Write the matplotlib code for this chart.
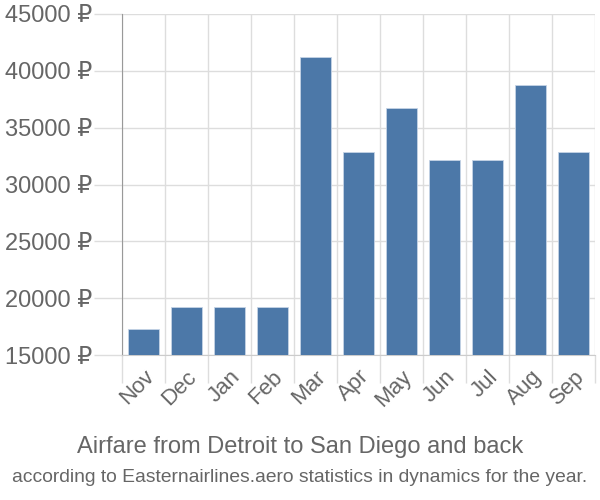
import matplotlib
matplotlib.use('Agg')
from matplotlib import pyplot as plt
import numpy as np

months = ['Nov', 'Dec', 'Jan', 'Feb', 'Mar', 'Apr', 'May', 'Jun', 'Jul', 'Aug', 'Sep']
prices = [17330, 19210, 19210, 19210, 41250, 32850, 36690, 32140, 32140, 38760, 32850]
y_ticks = [15000, 20000, 25000, 30000, 35000, 40000, 45000]

title = 'Airfare from Detroit to San Diego and back'
subtitle = 'according to Easternairlines.aero statistics in dynamics for the year.'

plt.rcParams['font.family'] = ['Liberation Sans', 'DejaVu Sans']

text_color = '#666666'
grid_color = '#dddddd'

fig = plt.figure(figsize=(6, 5), dpi=100)
ax = fig.add_axes([0.203, 0.29, 0.789, 0.682])

x = np.arange(len(months))
ax.bar(x, prices, width=0.72, bottom=0, color='#4c78a8', edgecolor='#c5d3e6', linewidth=0.6, zorder=3)

ax.set_xlim(-0.5, len(months) - 0.5)
ax.set_ylim(15000, 45000)
ax.set_yticks(y_ticks)
ax.set_yticklabels([f'{v} ₽' for v in y_ticks])

# category boundaries as vertical grid lines
ax.set_xticks(x)
ax.set_xticklabels(months, rotation=45, ha='right', rotation_mode='anchor')
ax.set_xticks(np.arange(len(months) + 1) - 0.5, minor=True)
ax.grid(True, which='minor', axis='x', color=grid_color, linewidth=1, zorder=0)
ax.grid(True, which='major', axis='y', color=grid_color, linewidth=1, zorder=0)
ax.tick_params(axis='x', which='major', length=0, pad=8, labelsize=16, labelcolor=text_color)
ax.tick_params(axis='x', which='minor', length=20, color=grid_color, width=1)
ax.tick_params(axis='y', length=20, color=grid_color, width=1, pad=1, labelsize=17, labelcolor=text_color)

for side in ['top', 'right']:
    ax.spines[side].set_visible(False)
ax.spines['left'].set_color('#999999')
ax.spines['bottom'].set_color('#cccccc')

fig.text(0.5, 0.107, title, ha='center', va='center', fontsize=17, color=text_color)
fig.text(0.5, 0.046, subtitle, ha='center', va='center', fontsize=13.9, color=text_color,
         family=['Liberation Sans Narrow', 'Liberation Sans', 'DejaVu Sans'])

fig.savefig('out.png', dpi=100)
